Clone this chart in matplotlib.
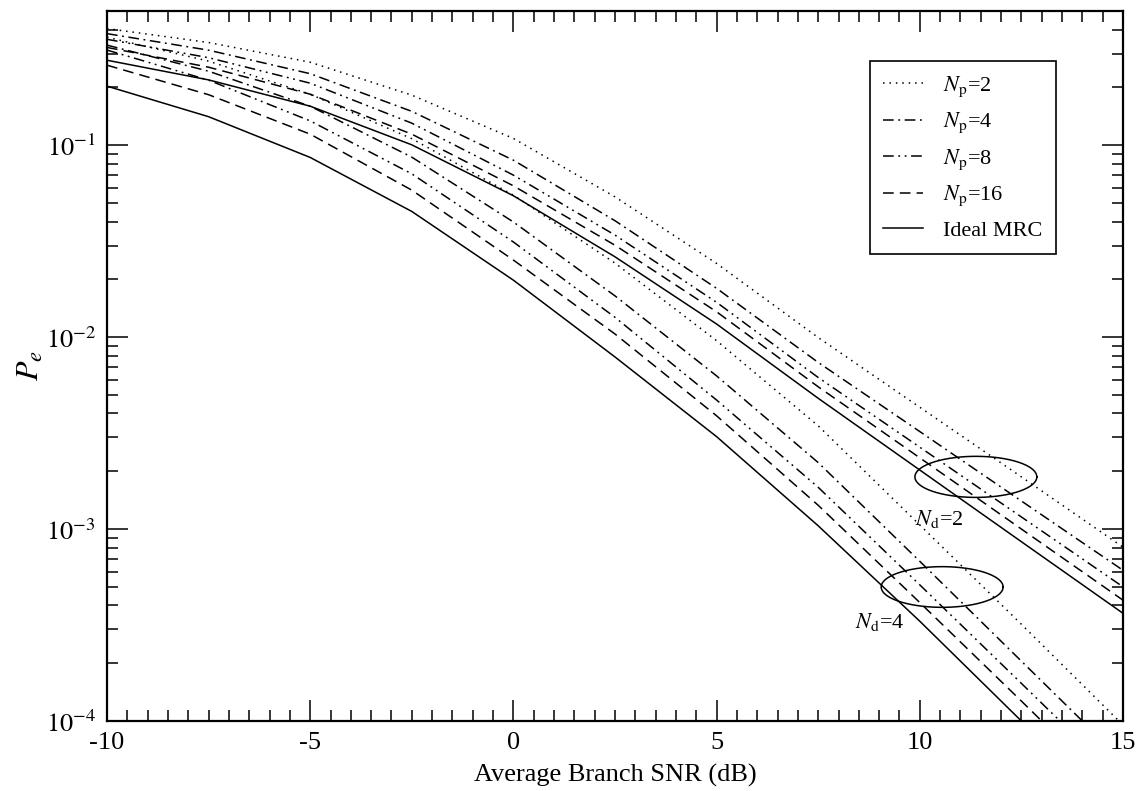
import numpy as np
import matplotlib
matplotlib.use('Agg')
import matplotlib.pyplot as plt

plt.rcParams['font.family'] = 'serif'
plt.rcParams['font.serif'] = ['Liberation Serif', 'DejaVu Serif']
plt.rcParams['mathtext.fontset'] = 'stix'

# average branch SNR (dB)
snr = [-10, -7.5, -5, -2.5, 0, 2.5, 5, 7.5, 10, 12.5, 15]

# N_d = 2 diversity branches
nd2_np2 = [0.405, 0.3426, 0.2705, 0.1822, 0.1084, 0.0538, 0.0242, 0.00995, 0.00431, 0.00187, 0.000805]
nd2_np4 = [0.381, 0.3125, 0.2357, 0.150, 0.0835, 0.0404, 0.01795, 0.00738, 0.00322, 0.00140, 0.00061]
nd2_np8 = [0.356, 0.2856, 0.2103, 0.1302, 0.0698, 0.0340, 0.01518, 0.00616, 0.00267, 0.001156, 0.00050]
nd2_np16 = [0.323, 0.2548, 0.1843, 0.1141, 0.0614, 0.0301, 0.01355, 0.00551, 0.00235, 0.00100, 0.000426]
nd2_mrc = [0.277, 0.2188, 0.1596, 0.1004, 0.0545, 0.0262, 0.0117, 0.00480, 0.00203, 0.000859, 0.000364]

# N_d = 4 diversity branches (curves stop at 1e-4)
snr_nd4_np2 = [-10, -7.5, -5, -2.5, 0, 2.5, 5, 7.5, 10, 12.5, 14.9]
nd4_np2 = [0.3652, 0.274, 0.1843, 0.1081, 0.0549, 0.0243, 0.00958, 0.00345, 0.00105, 0.000319, 0.0001]
snr_nd4_np4 = [-10, -7.5, -5, -2.5, 0, 2.5, 5, 7.5, 10, 12.5, 14.0]
nd4_np4 = [0.332, 0.2428, 0.1596, 0.0866, 0.0398, 0.0164, 0.00628, 0.00222, 0.000679, 0.000205, 0.0001]
snr_nd4_np8 = [-10, -7.5, -5, -2.5, 0, 2.5, 5, 7.5, 10, 12.5, 13.45]
nd4_np8 = [0.313, 0.2181, 0.1338, 0.0709, 0.0313, 0.01268, 0.0047, 0.00165, 0.000512, 0.000157, 0.0001]
snr_nd4_np16 = [-10, -7.5, -5, -2.5, 0, 2.5, 5, 7.5, 10, 12.5, 13.0]
nd4_np16 = [0.261, 0.1832, 0.1141, 0.0583, 0.0252, 0.01038, 0.00389, 0.00133, 0.000414, 0.000127, 0.0001]
snr_nd4_mrc = [-10, -7.5, -5, -2.5, 0, 2.5, 5, 7.5, 10, 12.5]
nd4_mrc = [0.203, 0.1407, 0.0863, 0.04515, 0.0198, 0.00788, 0.00303, 0.00104, 0.000331, 0.0001]

labels = [r'$N_{\rm p}$=2', r'$N_{\rm p}$=4', r'$N_{\rm p}$=8', r'$N_{\rm p}$=16', 'Ideal MRC']
estilos = [(0, (1, 3.2)), (0, (7, 3, 1.2, 3)), (0, (7, 3, 1.2, 3, 1.2, 3)), (0, (7, 4)), '-']

xticks = [-10, -5, 0, 5, 10, 15]
xtick_labels = ['-10', '-5', '0', '5', '10', '15']
yticks = [1e-4, 1e-3, 1e-2, 1e-1]
ytick_labels = [r'$10^{-4}$', r'$10^{-3}$', r'$10^{-2}$', r'$10^{-1}$']


def elipse(ax, cx, cy, a, b):
    # a in dB, b in decades, so it looks round on the log axis
    t = np.linspace(0, 2 * np.pi, 200)
    ax.plot(cx + a * np.cos(t), cy * 10 ** (b * np.sin(t)), color='black', lw=1.1)


fig = plt.figure(figsize=(11.43, 7.91), dpi=100)
ax = fig.add_axes([0.0936, 0.0885, 0.8889, 0.8976])

curvas_nd2 = [nd2_np2, nd2_np4, nd2_np8, nd2_np16, nd2_mrc]
for pe, ls, lab in zip(curvas_nd2, estilos, labels):
    ax.plot(snr, pe, color='black', lw=1.1, linestyle=ls, label=lab)

curvas_nd4 = [(snr_nd4_np2, nd4_np2), (snr_nd4_np4, nd4_np4), (snr_nd4_np8, nd4_np8),
              (snr_nd4_np16, nd4_np16), (snr_nd4_mrc, nd4_mrc)]
for (x, pe), ls in zip(curvas_nd4, estilos):
    ax.plot(x, pe, color='black', lw=1.1, linestyle=ls)

elipse(ax, 11.38, 1.87e-3, 1.5, 0.107)
elipse(ax, 10.55, 4.99e-4, 1.5, 0.106)
ax.text(9.88, 1.05e-3, r'$N_{\rm d}$=2', fontsize=16, ha='left', va='baseline')
ax.text(8.40, 3.05e-4, r'$N_{\rm d}$=4', fontsize=16, ha='left', va='baseline')

ax.set_yscale('log')
ax.set_xlim(-10, 15)
ax.set_ylim(1e-4, 0.5)
ax.set_xticks(xticks)
ax.set_xticklabels(xtick_labels)
ax.set_xticks(np.arange(-10, 15.01, 0.5), minor=True)
ax.set_yticks(yticks)
ax.set_yticklabels(ytick_labels)
ax.yaxis.set_minor_locator(matplotlib.ticker.LogLocator(base=10, subs=np.arange(2, 10)))
ax.yaxis.set_minor_formatter(matplotlib.ticker.NullFormatter())

ax.tick_params(which='both', direction='in', top=True, right=True, labelsize=19, width=1.1)
ax.tick_params(which='major', length=15, pad=8)
ax.tick_params(which='minor', length=8)
for s in ax.spines.values():
    s.set_linewidth(1.6)

ax.set_xlabel('Average Branch SNR (dB)', fontsize=19, labelpad=7)
ax.set_ylabel(r'$P_e$', fontsize=23, labelpad=0)

leg = ax.legend(loc='upper left', bbox_to_anchor=(0.751, 0.9296), fontsize=16,
                frameon=True, fancybox=False, edgecolor='black', framealpha=1,
                handlelength=1.8, handletextpad=0.9, labelspacing=0.54,
                borderaxespad=0, borderpad=0.6)
leg.get_frame().set_linewidth(1.2)

fig.savefig('out.png', dpi=100)
